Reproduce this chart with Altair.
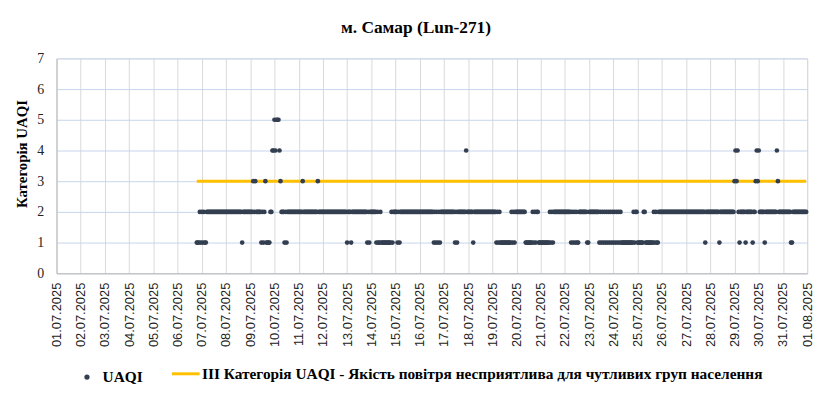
import altair as alt
import pandas as pd

# ---- data (hourly UAQI category, one string per day, '-' = no data)
first_day = "2025-07-06"
uaqi_days = [
    "-------------------11121",   # 06.07
    "212112222222222222222222",   # 07.07
    "222222222222222212222222",   # 08.07
    "222323222221212311112244",   # 09.07
    "545554322212122222222222",   # 10.07
    "222232222222222222232222",   # 11.07
    "222222222222222222222222",   # 12.07
    "122212222222222222221212",   # 13.07
    "222221211211111111112122",   # 14.07
    "221212222222222222222222",   # 15.07
    "222222222222221212121222",   # 16.07
    "222222222221212222222242",   # 17.07
    "222221222222222222222222",   # 18.07
    "222212121111111111121212",   # 19.07
    "222222222111111121212211",   # 20.07
    "111111111212122222222222",   # 21.07
    "222222121212112222222211",   # 22.07
    "222222222212121212121212",   # 23.07
    "121212121111111111112122",   # 24.07
    "111111221111111121211222",   # 25.07
    "222222222222222222222222",   # 26.07
    "222222222222222222212222",   # 27.07
    "222222222122222222222222",   # 28.07
    "343421222221222222122343",   # 29.07
    "422222122222222222432222",   # 30.07
    "222222221122222222222222",   # 31.07
]
threshold = 3
series_names = ["UAQI",
                "ІІІ Категорія UAQI - Якість повітря несприятлива для чутливих груп населення"]
tick_days = [(7, d) for d in range(1, 32)] + [(8, 1)]
y_ticks = [0, 1, 2, 3, 4, 5, 6, 7]

# ---- build the table
base = pd.Timestamp(first_day)
rows = []
for d, s in enumerate(uaqi_days):
    for h, ch in enumerate(s):
        if ch == "-":
            continue
        t = base + pd.Timedelta(days=d, hours=h)
        rows.append({"t": t.strftime("%Y-%m-%dT%H:%M:%S"), "uaqi": int(ch),
                     "thr": threshold, "s1": series_names[0], "s2": series_names[1]})
df = pd.DataFrame(rows)

DOT = "#333F50"
ORANGE = "#FFC000"
SERIF = "Liberation Serif"
SANS = "Liberation Sans"

x_scale = alt.Scale(domain=[alt.DateTime(year=2025, month=7, date=1),
                            alt.DateTime(year=2025, month=8, date=1)], nice=False)
x_axis = alt.Axis(values=[alt.DateTime(year=2025, month=m, date=d) for m, d in tick_days],
                  format="%d.%m.%Y", labelAngle=270, title=None, grid=True,
                  gridColor="#D9D9D9", ticks=False, domainColor="#BFBFBF",
                  labelFont=SANS, labelFontSize=13, labelColor="#222222",
                  labelPadding=9, labelOverlap=False)
y_scale = alt.Scale(domain=[0, 7], nice=False)
y_axis = alt.Axis(values=y_ticks, title="Категорія UAQI", titleFont=SERIF,
                  titleFontSize=15, titleFontWeight="bold", titleColor="#000000",
                  titleAngle=270, titleBaseline="middle", titleAlign="center",
                  titleX=-35, titleY=96,
                  grid=True, gridColor="#C6D4EC", ticks=False, domainColor="#BFBFBF",
                  labelFont=SERIF, labelFontSize=14, labelColor="#222222",
                  labelPadding=13)

line = alt.Chart(df).mark_line(strokeWidth=3, strokeCap="butt").encode(
    x=alt.X("t:T", scale=x_scale, axis=x_axis),
    y=alt.Y("thr:Q", scale=y_scale, axis=y_axis),
    stroke=alt.Stroke("s2:N", scale=alt.Scale(domain=[series_names[1]], range=[ORANGE]),
                      legend=alt.Legend(orient="none", legendX=115, legendY=303, title=None,
                                        symbolType="stroke", symbolSize=784,
                                        symbolStrokeWidth=3, labelOffset=1,
                                        labelFont=SERIF, labelFontSize=15.5,
                                        labelFontWeight="bold", labelColor="#000000",
                                        labelLimit=800, padding=0)),
)

points = alt.Chart(df).mark_circle(size=22, opacity=1).encode(
    x=alt.X("t:T", scale=x_scale, axis=x_axis),
    y=alt.Y("uaqi:Q", scale=y_scale, axis=y_axis),
    fill=alt.Fill("s1:N", scale=alt.Scale(domain=[series_names[0]], range=[DOT]),
                  legend=alt.Legend(orient="none", legendX=23, legendY=314, title=None,
                                    symbolType="circle", symbolSize=28,
                                    labelOffset=8, labelFont=SERIF, labelFontSize=15.5,
                                    labelFontWeight="bold", labelColor="#000000",
                                    padding=0)),
)

chart = alt.layer(line, points).properties(
    width=758, height=217,
    title=alt.TitleParams("м. Самар (Lun-271)", font=SERIF, fontSize=17.5,
                          fontWeight="bold", color="#000000", anchor="middle",
                          dx=-16, dy=25, baseline="bottom", offset=22),
    autosize=alt.AutoSizeParams(type="none"),
    padding={"left": 49, "top": 49, "right": 17, "bottom": 120},
).configure_view(stroke="transparent").configure(background="white")

chart.save("out.html", embed_options={"renderer": "svg", "actions": False})
